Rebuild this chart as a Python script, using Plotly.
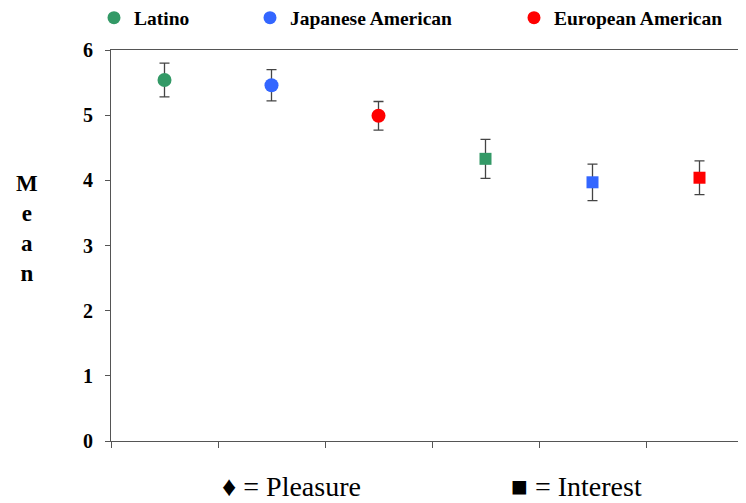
import plotly.graph_objects as go

groups = ["Latino", "Japanese American", "European American"]
colors = ["#339966", "#3366FF", "#FF0000"]
pleasure_mean = [5.54, 5.46, 4.99]
pleasure_err = [0.26, 0.24, 0.22]
interest_mean = [4.33, 3.97, 4.04]
interest_err = [0.30, 0.28, 0.26]
y_ticks = [0, 1, 2, 3, 4, 5, 6]

OFF = 8  # page body margin
W, H = 746 - OFF, 503 - OFF
L, R, T, B = 111 - OFF, 0, 50 - OFF, 62
pw, ph = W - L - R, H - T - B

def px2x(px):
    return (px - OFF - L) / pw

def py2y(py):
    return 1 - (py - OFF - T) / ph

SERIF = "Liberation Serif"
fig = go.Figure()
n = len(groups)
legend_text_x = [134, 290, 554]
for i, g in enumerate(groups):
    xs = [i + 0.5, n + i + 0.5]
    ys = [pleasure_mean[i], interest_mean[i]]
    es = [pleasure_err[i], interest_err[i]]
    lg = "legend" if i == 0 else f"legend{i+1}"
    fig.add_trace(go.Scatter(
        x=xs, y=ys, mode="markers", name=g, legend=lg,
        marker=dict(color=colors[i], symbol=["circle", "square"], size=[14, 12],
                    opacity=1, line=dict(width=0)),
        error_y=dict(type="data", array=es, visible=True, color="#444444", thickness=1.3, width=5),
        showlegend=True,
    ))

legend_common = dict(
    orientation="h", xanchor="left", yanchor="middle", bgcolor="rgba(0,0,0,0)",
    font=dict(family=SERIF, size=19.5, color="black", weight="bold"),
    borderwidth=0, itemwidth=30,
)
layout_legends = {}
for i in range(n):
    key = "legend" if i == 0 else f"legend{i+1}"
    layout_legends[key] = dict(legend_common, x=px2x(legend_text_x[i] - 40), y=py2y(18))

fig.update_layout(
    width=W, height=H,
    margin=dict(l=L, r=R, t=T, b=B, pad=0, autoexpand=False),
    paper_bgcolor="white", plot_bgcolor="white",
    xaxis=dict(range=[0, pw / 107.0], tickvals=list(range(0, 2 * n)), showticklabels=False,
               ticks="outside", ticklen=6, tickcolor="#555555", showline=True, mirror=True,
               linecolor="#555555", linewidth=1, showgrid=False, zeroline=False, automargin=False),
    yaxis=dict(range=[0, 6], tickvals=y_ticks, ticks="outside", ticklen=5, tickcolor="#555555",
               showline=True, linecolor="#555555", linewidth=1, showgrid=False, zeroline=False,
               automargin=False,
               tickfont=dict(family=SERIF, size=20, color="black", weight="bold"), ticklabelstandoff=8),
    showlegend=True,
    **layout_legends,
)

fig.add_annotation(text="M<br>e<br>a<br>n", xref="paper", yref="paper", x=px2x(27), y=py2y(228),
                   showarrow=False, xanchor="center", yanchor="middle", align="center",
                   font=dict(family=SERIF, size=23, color="black", weight="bold"))
fig.add_annotation(text="\u2666 = Pleasure", xref="paper", yref="paper", x=px2x(291), y=py2y(486),
                   showarrow=False, xanchor="center", yanchor="middle",
                   font=dict(family=SERIF, size=28, color="black"))
fig.add_annotation(text="\u25a0 = Interest", xref="paper", yref="paper", x=px2x(576), y=py2y(486),
                   showarrow=False, xanchor="center", yanchor="middle",
                   font=dict(family=SERIF, size=28, color="black"))

fig.write_html("out.html")
